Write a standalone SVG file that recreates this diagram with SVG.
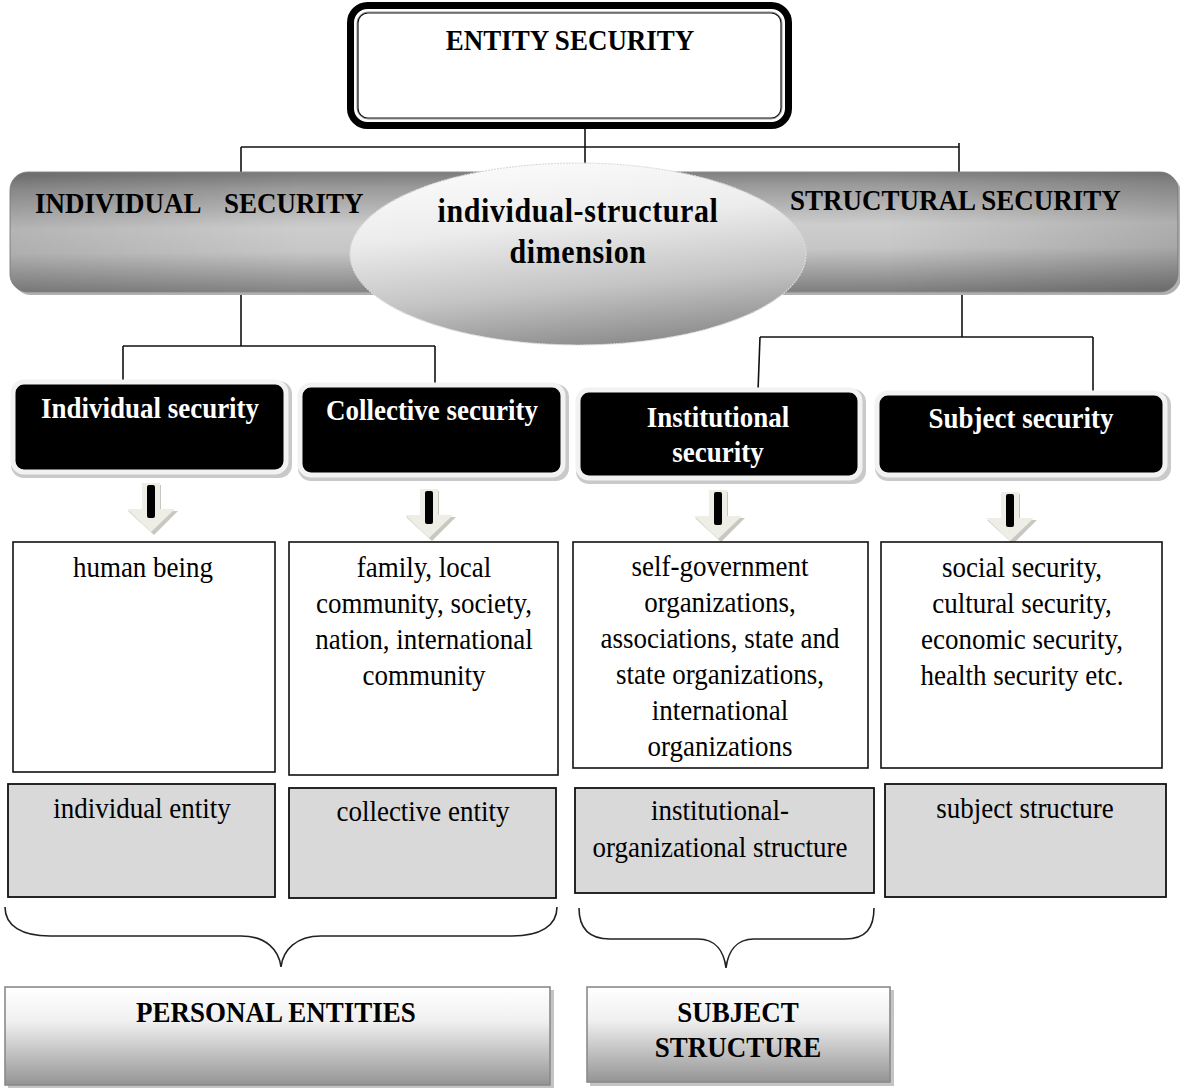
<svg xmlns="http://www.w3.org/2000/svg" xmlns:xlink="http://www.w3.org/1999/xlink" width="1180" height="1088" viewBox="0 0 1180 1088">
  <style>
    text { font-family: "Liberation Serif", "Times New Roman", serif; fill: #000; }
    .b { font-weight: bold; font-size: 27px; }
    .r { font-size: 27px; }
    .c { text-anchor: middle; }
    .w { fill: #fff; }
    .ell { font-weight: bold; font-size: 30px; letter-spacing: 0.6px; }
    .conn { stroke: #111; stroke-width: 1.6; fill: none; }
    .blk { fill: #000; stroke: #f2f2f2; stroke-width: 5; }
    .blkshadow { fill: #c9c9c9; }
    .wbox { fill: #fff; stroke: #111; stroke-width: 1.6; }
    .gbox { fill: #d9d9d9; stroke: #111; stroke-width: 1.8; }
    .brace { stroke: #222; stroke-width: 1.6; fill: none; }
    .btm { fill: url(#gBtm); stroke: #8a8a8a; stroke-width: 1.6; }
    .btmshadow { fill: #c4c4c4; }
  </style>
  <defs>
    <linearGradient id="gBar" x1="0.47" y1="0" x2="0.53" y2="1">
      <stop offset="0" stop-color="#7d7d7d"/>
      <stop offset="0.12" stop-color="#9a9a9a"/>
      <stop offset="0.45" stop-color="#cdcdcd"/>
      <stop offset="0.65" stop-color="#c6c6c6"/>
      <stop offset="1" stop-color="#808080"/>
    </linearGradient>
    <linearGradient id="gBarH" x1="0" y1="0" x2="1" y2="0">
      <stop offset="0" stop-color="#000" stop-opacity="0.12"/>
      <stop offset="0.25" stop-color="#000" stop-opacity="0"/>
      <stop offset="0.75" stop-color="#000" stop-opacity="0"/>
      <stop offset="1" stop-color="#000" stop-opacity="0.15"/>
    </linearGradient>
    <linearGradient id="gEll" x1="0.3" y1="0" x2="0.55" y2="1">
      <stop offset="0" stop-color="#fbfbfb"/>
      <stop offset="0.35" stop-color="#ececec"/>
      <stop offset="0.7" stop-color="#c4c4c4"/>
      <stop offset="1" stop-color="#8e8e8e"/>
    </linearGradient>
    <linearGradient id="gBtm" x1="0" y1="0" x2="0" y2="1">
      <stop offset="0" stop-color="#ffffff"/>
      <stop offset="0.35" stop-color="#f0f0f0"/>
      <stop offset="1" stop-color="#949494"/>
    </linearGradient>
    <g id="arrow">
      <rect x="-8" y="2" width="18" height="28" fill="#c8c8c0"/>
      <polygon points="-23,28 27,28 3,52" fill="#c8c8c0"/>
      <rect x="-9" y="0" width="18" height="28" fill="#efeee6"/>
      <polygon points="-24,26 24,26 0,49" fill="#efeee6"/>
      <rect x="-4" y="2" width="8" height="33" rx="2" fill="#000"/>
    </g>
  </defs>

  <!-- connectors -->
  <g id="connectors">
    <path class="conn" d="M585,128 V164"/>
    <path class="conn" d="M241,147 H959"/>
    <path class="conn" d="M241,147 V173"/>
    <path class="conn" d="M959,143 V173"/>
    <path class="conn" d="M241,292 V346"/>
    <path class="conn" d="M123,346 H435"/>
    <path class="conn" d="M123,346 V383"/>
    <path class="conn" d="M435,346 V386"/>
    <path class="conn" d="M962,290 V337"/>
    <path class="conn" d="M760,337 H1093"/>
    <path class="conn" d="M760,337 L758,391"/>
    <path class="conn" d="M1093,337 V394"/>
  </g>

  <!-- top node -->
  <g id="entity-security">
    <rect x="350.5" y="5.5" width="438" height="120" rx="17" fill="#fff" stroke="#000" stroke-width="7"/>
    <rect x="357" y="12" width="425" height="107" rx="11" fill="none" stroke="#999" stroke-width="1"/>
    <rect x="358" y="13" width="423" height="105" rx="10" fill="none" stroke="#111" stroke-width="1.2"/>
    <text class="b c" x="570" y="50" transform="matrix(1 0 0 1.12 0 -6)">ENTITY SECURITY</text>
  </g>

  <!-- bar -->
  <g id="security-bar">
    <rect x="13" y="175" width="1168" height="120" rx="18" fill="#b0b0b0"/>
    <rect x="10" y="172" width="1168" height="120" rx="18" fill="url(#gBar)" stroke="#8c8c8c" stroke-width="1"/>
    <rect x="10" y="172" width="1168" height="120" rx="18" fill="url(#gBarH)"/>
    <text class="b" x="35" y="213" transform="matrix(1 0 0 1.12 0 -25.56)">INDIVIDUAL</text>
    <text class="b" x="224" y="213" transform="matrix(1 0 0 1.12 0 -25.56)">SECURITY</text>
    <text class="b" x="790" y="210" transform="matrix(1 0 0 1.12 0 -25.2)">STRUCTURAL SECURITY</text>
  </g>

  <g id="dimension-ellipse">
    <ellipse cx="578" cy="254" rx="228" ry="91" fill="url(#gEll)" stroke="#dcdcdc" stroke-width="1.2" stroke-dasharray="2 1"/>
    <text class="ell c" x="578" y="222" transform="matrix(1 0 0 1.12 0 -26.64)">individual-structural</text>
    <text class="ell c" x="578" y="263" transform="matrix(1 0 0 1.12 0 -31.56)">dimension</text>
  </g>

  <!-- black nodes -->
  <g id="individual-security">
    <rect class="blkshadow" x="11" y="381" width="281" height="97" rx="13"/>
    <rect class="blk" x="13" y="382" width="273" height="90" rx="11"/>
    <text class="b c w" x="150" y="418" transform="matrix(1 0 0 1.12 0 -50.16)">Individual security</text>
  </g>
  <g id="collective-security">
    <rect class="blkshadow" x="298" y="384" width="271" height="97" rx="13"/>
    <rect class="blk" x="300" y="385" width="263" height="90" rx="11"/>
    <text class="b c w" x="432" y="420" transform="matrix(1 0 0 1.12 0 -50.4)">Collective security</text>
  </g>
  <g id="institutional-security">
    <rect class="blkshadow" x="576" y="389" width="290" height="95" rx="13"/>
    <rect class="blk" x="578" y="390" width="282" height="88" rx="11"/>
    <text class="b c w" x="718" y="427" transform="matrix(1 0 0 1.12 0 -51.24)">Institutional</text>
    <text class="b c w" x="718" y="462" transform="matrix(1 0 0 1.12 0 -55.44)">security</text>
  </g>
  <g id="subject-security">
    <rect class="blkshadow" x="875" y="392" width="296" height="89" rx="13"/>
    <rect class="blk" x="877" y="393" width="288" height="82" rx="11"/>
    <text class="b c w" x="1021" y="428" transform="matrix(1 0 0 1.12 0 -51.36)">Subject security</text>
  </g>

  <!-- arrows -->
  <g id="arrows">
    <use xlink:href="#arrow" x="151" y="483"/>
    <use xlink:href="#arrow" x="429" y="489"/>
    <use xlink:href="#arrow" x="718" y="490"/>
    <use xlink:href="#arrow" x="1010" y="492"/>
  </g>

  <!-- white content boxes -->
  <g id="human-being">
    <rect class="wbox" x="13" y="542" width="262" height="230"/>
    <text class="r c" x="143" y="577" transform="matrix(1 0 0 1.12 0 -69.24)">human being</text>
  </g>
  <g id="collectives">
    <rect class="wbox" x="289" y="542" width="269" height="233"/>
    <text class="r c" x="424" y="577" transform="matrix(1 0 0 1.12 0 -69.24)">family, local</text>
    <text class="r c" x="424" y="613" transform="matrix(1 0 0 1.12 0 -73.56)">community, society,</text>
    <text class="r c" x="424" y="649" transform="matrix(1 0 0 1.12 0 -77.88)">nation, international</text>
    <text class="r c" x="424" y="685" transform="matrix(1 0 0 1.12 0 -82.2)">community</text>
  </g>
  <g id="organizations">
    <rect class="wbox" x="573" y="542" width="295" height="226"/>
    <text class="r c" x="720" y="576" transform="matrix(1 0 0 1.12 0 -69.12)">self-government</text>
    <text class="r c" x="720" y="612" transform="matrix(1 0 0 1.12 0 -73.44)">organizations,</text>
    <text class="r c" x="720" y="648" transform="matrix(1 0 0 1.12 0 -77.76)">associations, state and</text>
    <text class="r c" x="720" y="684" transform="matrix(1 0 0 1.12 0 -82.08)">state organizations,</text>
    <text class="r c" x="720" y="720" transform="matrix(1 0 0 1.12 0 -86.4)">international</text>
    <text class="r c" x="720" y="756" transform="matrix(1 0 0 1.12 0 -90.72)">organizations</text>
  </g>
  <g id="securities">
    <rect class="wbox" x="881" y="542" width="281" height="226"/>
    <text class="r c" x="1022" y="577" transform="matrix(1 0 0 1.12 0 -69.24)">social security,</text>
    <text class="r c" x="1022" y="613" transform="matrix(1 0 0 1.12 0 -73.56)">cultural security,</text>
    <text class="r c" x="1022" y="649" transform="matrix(1 0 0 1.12 0 -77.88)">economic security,</text>
    <text class="r c" x="1022" y="685" transform="matrix(1 0 0 1.12 0 -82.2)">health security etc.</text>
  </g>

  <!-- gray boxes -->
  <g id="individual-entity">
    <rect class="gbox" x="8" y="784" width="267" height="113"/>
    <text class="r c" x="142" y="818" transform="matrix(1 0 0 1.12 0 -98.16)">individual entity</text>
  </g>
  <g id="collective-entity">
    <rect class="gbox" x="289" y="788" width="267" height="110"/>
    <text class="r c" x="423" y="821" transform="matrix(1 0 0 1.12 0 -98.52)">collective entity</text>
  </g>
  <g id="institutional-structure">
    <rect class="gbox" x="575" y="788" width="299" height="105"/>
    <text class="r c" x="720" y="820" transform="matrix(1 0 0 1.12 0 -98.4)">institutional-</text>
    <text class="r c" x="720" y="857" transform="matrix(1 0 0 1.12 0 -102.84)">organizational structure</text>
  </g>
  <g id="subject-structure">
    <rect class="gbox" x="885" y="784" width="281" height="113"/>
    <text class="r c" x="1025" y="818" transform="matrix(1 0 0 1.12 0 -98.16)">subject structure</text>
  </g>

  <!-- braces -->
  <g id="braces">
    <path class="brace" d="M5,907 C5,926 22,936 50,936 L241,936 C266,936 279,950 281,967 C283,950 296,936 321,936 L512,936 C540,936 557,926 557,907"/>
    <path class="brace" d="M579,908 C579,928 588,939 610,939 L698,939 C716,939 724,952 726,968 C728,952 736,939 754,939 L845,939 C866,939 874,928 874,908"/>
  </g>

  <!-- bottom boxes -->
  <g id="personal-entities">
    <rect class="btmshadow" x="8" y="990" width="546" height="98"/>
    <rect class="btm" x="5" y="987" width="545" height="98"/>
    <text class="b c" x="276" y="1022" transform="matrix(1 0 0 1.12 0 -122.64)">PERSONAL ENTITIES</text>
  </g>
  <g id="subject-structure-total">
    <rect class="btmshadow" x="590" y="990" width="304" height="96"/>
    <rect class="btm" x="587" y="987" width="303" height="95"/>
    <text class="b c" x="738" y="1022" transform="matrix(1 0 0 1.12 0 -122.64)">SUBJECT</text>
    <text class="b c" x="738" y="1057" transform="matrix(1 0 0 1.12 0 -126.84)">STRUCTURE</text>
  </g>
</svg>
